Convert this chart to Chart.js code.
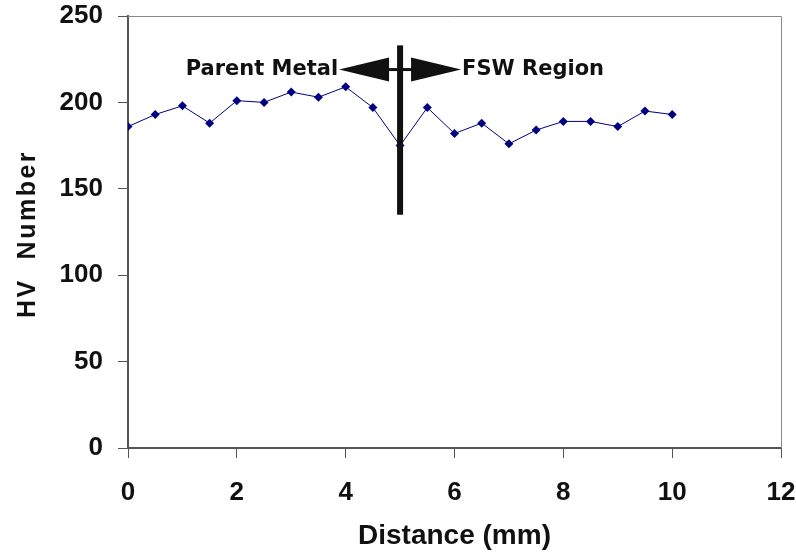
<!DOCTYPE html>
<html>
<head>
<meta charset="utf-8">
<script src="https://cdn.jsdelivr.net/npm/chart.js@4.4.0/dist/chart.umd.min.js"></script>
<style>
  html, body { margin: 0; padding: 0; background: #fff; }
  #wrap { width: 796px; height: 555px; }
</style>
</head>
<body>
<div id="wrap"><canvas id="hvChart"></canvas></div>
<script>
const distances = [0, 0.5, 1, 1.5, 2, 2.5, 3, 3.5, 4, 4.5, 5, 5.5, 6, 6.5, 7, 7.5, 8, 8.5, 9, 9.5, 10];
const hvValues = [186, 193, 198, 188, 201, 200, 206, 203, 209, 197, 175, 197, 182, 188, 176, 184, 189, 189, 186, 195, 193];
const xTicks = [0, 2, 4, 6, 8, 10, 12];
const yTicks = [0, 50, 100, 150, 200, 250];

const axisGrey = '#555555';
const tickFont = { family: 'Liberation Sans', size: 26, weight: 'bold' };

// frame on top/right, y title, and the region marker with arrows
const regionMarker = {
    id: 'regionMarker',
    afterDraw(chart) {
        const ctx = chart.ctx;
        const a = chart.chartArea;
        const xs = chart.scales.x, ys = chart.scales.y;
        ctx.save();
        ctx.strokeStyle = '#888888';
        ctx.lineWidth = 1;
        ctx.beginPath();
        ctx.moveTo(a.left, a.top + 0.5);
        ctx.lineTo(a.right + 0.5, a.top + 0.5);
        ctx.lineTo(a.right + 0.5, a.bottom);
        ctx.stroke();

        // y axis title (letter spaced like the original)
        ctx.save();
        ctx.translate(28, (a.top + a.bottom) / 2 + 2);
        ctx.rotate(-Math.PI / 2);
        ctx.fillStyle = '#111';
        ctx.font = 'bold 25px "Liberation Sans"';
        ctx.letterSpacing = '2.5px';
        ctx.textAlign = 'center';
        ctx.textBaseline = 'middle';
        ctx.fillText('HV  Number', 0, 0);
        ctx.restore();

        const cx = xs.getPixelForValue(5);
        const yTop = ys.getPixelForValue(233);
        const yBot = ys.getPixelForValue(135);
        const ay = ys.getPixelForValue(219);
        ctx.fillStyle = '#111111';
        ctx.strokeStyle = '#111111';
        ctx.fillRect(cx - 3, yTop, 6, yBot - yTop);
        ctx.lineWidth = 3;
        ctx.beginPath();
        ctx.moveTo(cx - 12, ay);
        ctx.lineTo(cx + 12, ay);
        ctx.stroke();
        ctx.beginPath();
        ctx.moveTo(cx - 61, ay);
        ctx.lineTo(cx - 11, ay - 12);
        ctx.lineTo(cx - 11, ay + 12);
        ctx.closePath();
        ctx.fill();
        ctx.beginPath();
        ctx.moveTo(cx + 61, ay);
        ctx.lineTo(cx + 11, ay - 12);
        ctx.lineTo(cx + 11, ay + 12);
        ctx.closePath();
        ctx.fill();

        ctx.font = 'bold 21px "DejaVu Sans"';
        ctx.textBaseline = 'middle';
        ctx.textAlign = 'right';
        ctx.fillText('Parent Metal', cx - 62, ay);
        ctx.textAlign = 'left';
        ctx.fillText('FSW Region', cx + 62, ay);
        ctx.restore();
    }
};

const points = distances.map((d, i) => ({ x: d, y: hvValues[i] }));

new Chart(document.getElementById('hvChart').getContext('2d'), {
    type: 'line',
    data: {
        datasets: [{
            label: 'HV',
            data: points,
            borderColor: '#000080',
            backgroundColor: '#000080',
            borderWidth: 1,
            pointStyle: 'rectRot',
            pointRadius: 4.5,
            pointBorderWidth: 0,
            fill: false,
            tension: 0
        }]
    },
    options: {
        responsive: true,
        maintainAspectRatio: false,
        animation: false,
        layout: { padding: 0 },
        plugins: { legend: { display: false }, tooltip: { enabled: false } },
        scales: {
            x: {
                type: 'linear',
                min: 0,
                max: 12,
                afterBuildTicks(axis) { axis.ticks = xTicks.map(v => ({ value: v })); },
                afterFit(axis) {
                    axis.height = 107;
                    axis.paddingLeft = 0;
                    axis.paddingRight = 15;
                },
                grid: { drawOnChartArea: false, drawTicks: true, tickLength: 10, color: axisGrey },
                border: { color: axisGrey, width: 2 },
                ticks: { color: '#111', font: tickFont, padding: 19, maxRotation: 0 },
                title: { display: true, text: 'Distance (mm)', color: '#111', font: { family: 'Liberation Sans', size: 28, weight: 'bold' }, padding: { top: 4, bottom: 2 } }
            },
            y: {
                min: 0,
                max: 250,
                afterBuildTicks(axis) { axis.ticks = yTicks.map(v => ({ value: v })); },
                afterFit(axis) {
                    axis.width = 128;
                    axis.paddingTop = 16;
                    axis.paddingBottom = 0;
                },
                grid: { drawOnChartArea: false, drawTicks: true, tickLength: 10, color: axisGrey },
                border: { color: axisGrey, width: 2 },
                ticks: { color: '#111', font: tickFont, padding: 15 },
                title: { display: false }
            }
        }
    },
    plugins: [regionMarker]
});
</script>
</body>
</html>
